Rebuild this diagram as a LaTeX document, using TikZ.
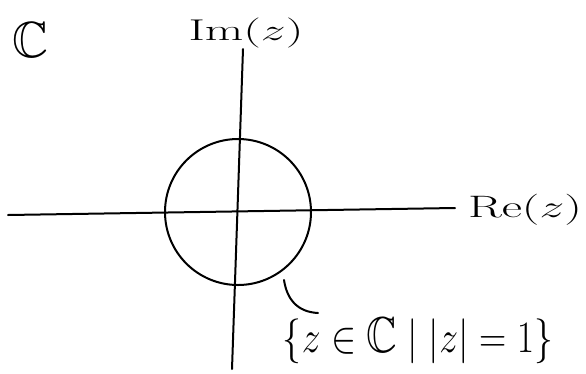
\documentclass[tikz,border=0pt]{standalone}
\usepackage{amssymb}
\usepackage{graphicx}
\begin{document}
\begin{tikzpicture}[x=1pt,y=-1pt,
  axis/.style={line width=2pt,line cap=round},
  curve/.style={line width=2pt},
  lbl/.style={font=\fontsize{28}{32}\selectfont,inner sep=0pt}]
\useasboundingbox (0,0) rectangle (586,373);
\coordinate (xl) at (8,215);
\coordinate (xr) at (455,208);
\coordinate (yt) at (243,49);
\coordinate (yb) at (232,369);
\draw[axis] (xl) -- (xr);
\draw[axis] (yt) -- (yb);
\node[curve,draw,circle,minimum size=146pt,inner sep=0pt] (uc) at (238,212) {};
\node[lbl] (cc) at (31,40) {\resizebox*{36pt}{35pt}{$\mathbb{C}$}};
\node[lbl] (im) at (246,33) {\resizebox*{115pt}{30pt}{$\mathrm{Im}(z)$}};
\node[lbl] (re) at (525,210) {\resizebox*{114pt}{31pt}{$\mathrm{Re}(z)$}};
\node[lbl] (set) at (418,341) {\resizebox*{270pt}{46pt}{$\{z\in\mathbb{C}\mid |z|=1\}$}};
\coordinate (l1) at (284,280);
\coordinate (l2) at (318,313);
\draw[curve,line cap=round] (l1) .. controls (287,300) and (298,312) .. (l2);
\end{tikzpicture}
\end{document}
